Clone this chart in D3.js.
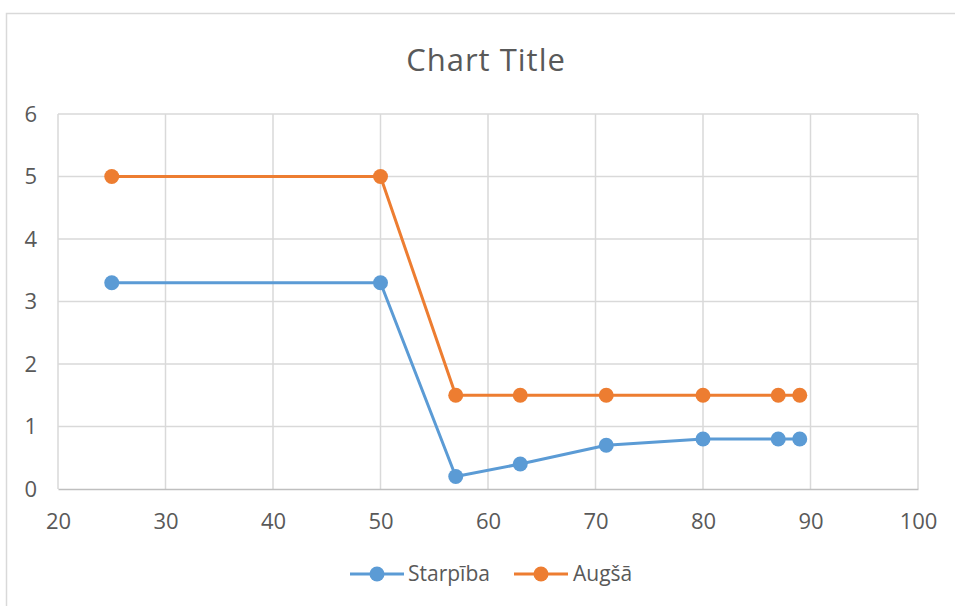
<!DOCTYPE html>
<html><head><meta charset="utf-8">
<script src="https://cdn.jsdelivr.net/npm/d3@7"></script>
<style>body{margin:0;background:#fff}svg{display:block}text{font-family:"Open Sans","Noto Sans",sans-serif}</style>
</head><body>
<svg id="c" width="955" height="606"></svg>
<script>
const xValues = [25, 50, 57, 63, 71, 80, 87, 89];
const starpiba = [3.3, 3.3, 0.2, 0.4, 0.7, 0.8, 0.8, 0.8];
const augsa = [5, 5, 1.5, 1.5, 1.5, 1.5, 1.5, 1.5];
const seriesNames = ["Starpība", "Augšā"];
const seriesColors = ["#5b9bd5", "#ed7d31"];
const xTicks = [20, 30, 40, 50, 60, 70, 80, 90, 100];
const yTicks = [0, 1, 2, 3, 4, 5, 6];
const title = "Chart Title";

const svg = d3.select("#c");
// chart border
svg.append("rect").attr("x", 6.5).attr("y", 13.5).attr("width", 1000).attr("height", 1000)
  .attr("fill", "#fff").attr("stroke", "#d9d9d9").attr("stroke-width", 1.5);

const x = d3.scaleLinear().domain([20, 100]).range([58, 918]);
const y = d3.scaleLinear().domain([0, 6]).range([489, 114]);

// gridlines
svg.append("g").selectAll("line").data(yTicks.filter(d => d > 0)).join("line")
  .attr("x1", x(20)).attr("x2", x(100)).attr("y1", d => y(d)).attr("y2", d => y(d))
  .attr("stroke", "#d9d9d9").attr("stroke-width", 1.5);
svg.append("g").selectAll("line").data(xTicks).join("line")
  .attr("x1", d => x(d)).attr("x2", d => x(d)).attr("y1", y(0)).attr("y2", y(6))
  .attr("stroke", "#d9d9d9").attr("stroke-width", 1.5);

// axes
const xAxis = svg.append("g").attr("transform", `translate(0,${y(0)})`)
  .call(d3.axisBottom(x).tickValues(xTicks).tickSize(0).tickPadding(24).tickFormat(d3.format("d")));
xAxis.select(".domain").attr("stroke", "#bfbfbf").attr("stroke-width", 1.5);
xAxis.selectAll("text").attr("font-size", 22).attr("fill", "#595959");
const yAxis = svg.append("g").attr("transform", `translate(${x(20)},0)`)
  .call(d3.axisLeft(y).tickValues(yTicks).tickSize(0).tickPadding(21).tickFormat(d3.format("d")));
yAxis.select(".domain").remove();
yAxis.selectAll("text").attr("font-size", 22).attr("fill", "#595959");

// title
svg.append("text").attr("x", 486).attr("y", 71).attr("text-anchor", "middle")
  .attr("font-size", 31).attr("letter-spacing", 1).attr("fill", "#595959").text(title);

const series = [starpiba, augsa];
const line = d3.line().x((d, i) => x(xValues[i])).y(d => y(d));
series.forEach((vals, si) => {
  const g = svg.append("g");
  g.append("path").datum(vals).attr("d", line).attr("fill", "none")
    .attr("stroke", seriesColors[si]).attr("stroke-width", 3).attr("stroke-linejoin", "round");
  g.selectAll("circle").data(vals).join("circle")
    .attr("cx", (d, i) => x(xValues[i])).attr("cy", d => y(d)).attr("r", 7.5)
    .attr("fill", seriesColors[si]);
});

// legend
const legendItems = [{x: 350, tx: 408}, {x: 514, tx: 573}];
legendItems.forEach((it, i) => {
  const g = svg.append("g");
  g.append("line").attr("x1", it.x).attr("x2", it.x + 54).attr("y1", 574).attr("y2", 574)
    .attr("stroke", seriesColors[i]).attr("stroke-width", 3);
  g.append("circle").attr("cx", it.x + 27).attr("cy", 574).attr("r", 7.5).attr("fill", seriesColors[i]);
  g.append("text").attr("x", it.tx).attr("y", 581).attr("font-size", 21).attr("fill", "#595959").text(seriesNames[i]);
});
</script>
</body></html>
